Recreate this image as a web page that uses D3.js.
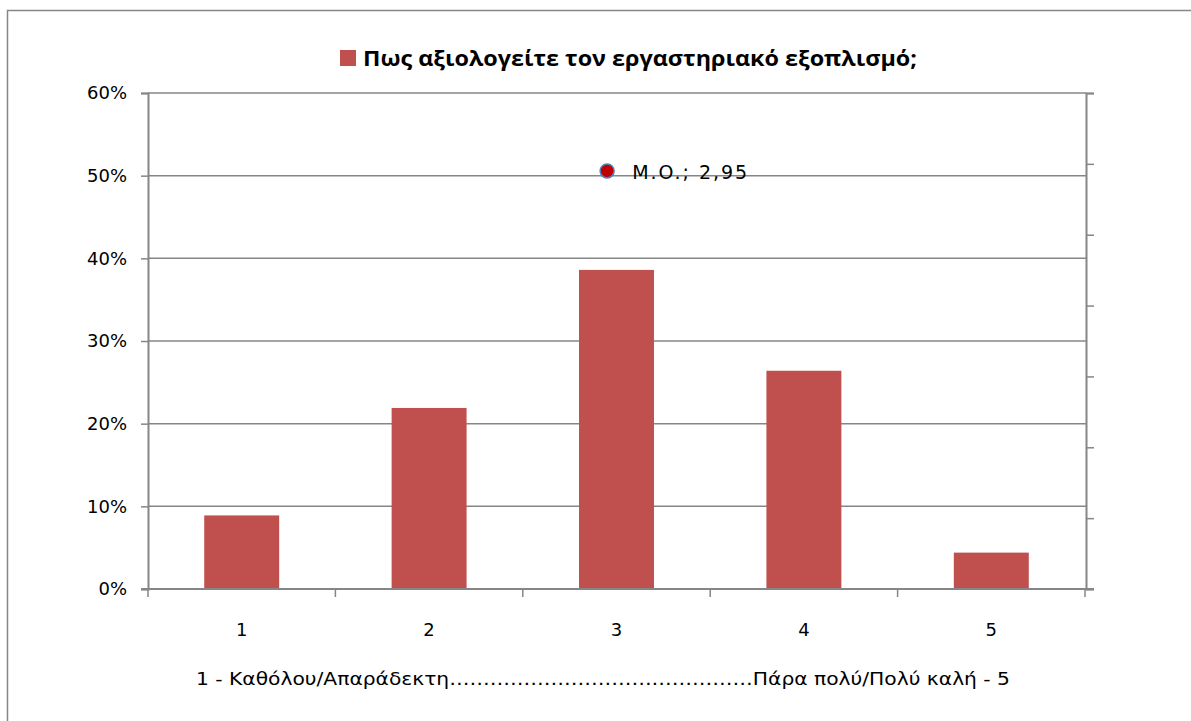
<!DOCTYPE html>
<html>
<head>
<meta charset="utf-8">
<script src="https://cdn.jsdelivr.net/npm/d3@7"></script>
<style>
  body { margin: 0; background: #fff; }
  text { font-family: Verdana, "DejaVu Sans", sans-serif; fill: #000; }
</style>
</head>
<body>
<svg id="chart" width="1191" height="721"></svg>
<script>
// data
const categories = ["1", "2", "3", "4", "5"];
const shares = [0.089, 0.219, 0.386, 0.264, 0.044];
const yTicks = [0, 0.1, 0.2, 0.3, 0.4, 0.5, 0.6];
const meanPoint = { x: 2.95, y: 5.9, label: "M.O.; 2,95" };
const titleText = "Πως αξιολογείτε τον εργαστηριακό εξοπλισμό;";
const axisTitle = "1 -  Καθόλου/Απαράδεκτη………………………………………Πάρα  πολύ/Πολύ καλή - 5";

const svg = d3.select("#chart");
const plotLeft = 148, plotRight = 1086, plotTop = 93, plotBottom = 589;
const grey = "#868686";

// outer frame (right and bottom edges fall off the picture)
svg.append("rect")
  .attr("x", 7.5).attr("y", 10.5)
  .attr("width", 1300).attr("height", 800)
  .attr("fill", "none").attr("stroke", grey).attr("stroke-width", 1.5);

const x = d3.scaleBand().domain(categories).range([plotLeft, plotRight - 1])
  .paddingInner(0.6).paddingOuter(0.3);
// continuous version of the category axis, for the mean marker
const xPos = d3.scaleLinear().domain([0.5, 5.5]).range([plotLeft, plotRight - 1]);
const y = d3.scaleLinear().domain([0, 0.6]).range([plotBottom, plotTop]);
const y2 = d3.scaleLinear().domain([0, 7]).range([plotBottom, plotTop]);

// gridlines
svg.append("g").selectAll("line").data(yTicks).join("line")
  .attr("x1", plotLeft).attr("x2", plotRight)
  .attr("y1", d => y(d)).attr("y2", d => y(d))
  .attr("stroke", grey).attr("stroke-width", 1.5);

// left axis
const yAxis = svg.append("g")
  .attr("transform", "translate(" + plotLeft + ",0)")
  .call(d3.axisLeft(y).tickValues(yTicks).tickFormat(d3.format(".0%")).tickSize(7).tickPadding(14));
yAxis.select(".domain").attr("stroke", grey).attr("stroke-width", 2);
yAxis.selectAll(".tick line").attr("stroke", grey).attr("stroke-width", 1.5);
yAxis.selectAll("text").style("font-size", "18px").attr("fill", "#000");

// right axis, ticks only
const y2Axis = svg.append("g")
  .attr("transform", "translate(" + plotRight + ",0)")
  .call(d3.axisRight(y2).ticks(7).tickSize(8).tickFormat(""));
y2Axis.select(".domain").attr("stroke", grey).attr("stroke-width", 2);
y2Axis.selectAll(".tick line").attr("stroke", grey).attr("stroke-width", 1.5);

// bars
svg.append("g").selectAll("rect").data(shares).join("rect")
  .attr("x", (d, i) => x(categories[i]))
  .attr("y", d => y(d))
  .attr("width", x.bandwidth())
  .attr("height", d => plotBottom - y(d))
  .attr("fill", "#C0504D");

// category axis
const bounds = d3.range(0.5, 6, 1);
svg.append("line")
  .attr("x1", plotLeft - 7).attr("x2", plotRight + 8)
  .attr("y1", plotBottom).attr("y2", plotBottom)
  .attr("stroke", grey).attr("stroke-width", 2);
svg.append("g").selectAll("line").data(bounds).join("line")
  .attr("x1", d => xPos(d)).attr("x2", d => xPos(d))
  .attr("y1", plotBottom).attr("y2", plotBottom + 8)
  .attr("stroke", grey).attr("stroke-width", 1.5);
svg.append("g").selectAll("text").data(categories).join("text")
  .attr("x", d => x(d) + x.bandwidth() / 2)
  .attr("y", 636)
  .attr("text-anchor", "middle")
  .style("font-size", "18px")
  .text(d => d);

svg.append("text")
  .attr("x", 196).attr("y", 685)
  .attr("textLength", 814).attr("lengthAdjust", "spacingAndGlyphs")
  .style("font-size", "18px")
  .text(axisTitle);

// mean marker
svg.append("circle")
  .attr("cx", xPos(meanPoint.x)).attr("cy", y2(meanPoint.y))
  .attr("r", 7)
  .attr("fill", "#C00000").attr("stroke", "#4F81BD").attr("stroke-width", 1.5);
svg.append("text")
  .attr("x", xPos(meanPoint.x) + 25).attr("y", y2(meanPoint.y) + 8)
  .attr("textLength", 115).attr("lengthAdjust", "spacing")
  .style("font-size", "19px")
  .text(meanPoint.label);

// title with legend key
svg.append("rect")
  .attr("x", 340).attr("y", 50).attr("width", 16).attr("height", 16)
  .attr("fill", "#C0504D");
svg.append("text")
  .attr("x", 363).attr("y", 66)
  .attr("textLength", 554).attr("lengthAdjust", "spacingAndGlyphs")
  .style("font-family", "'Open Sans', 'DejaVu Sans', sans-serif")
  .style("font-weight", "bold")
  .style("font-size", "21px")
  .text(titleText);
</script>
</body>
</html>
